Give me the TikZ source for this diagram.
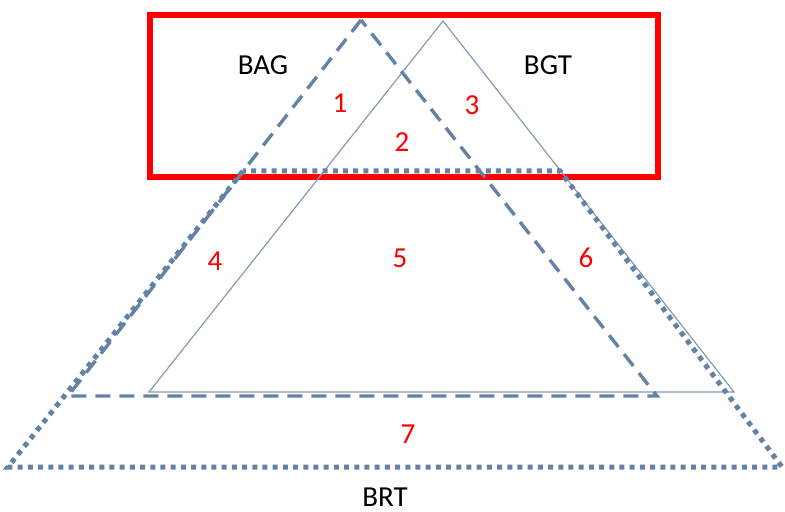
\documentclass[tikz,border=0pt]{standalone}
\usepackage{fontspec}
\setmainfont{Carlito}
\usetikzlibrary{positioning}
\definecolor{steel}{RGB}{100,130,165}
\tikzset{
  scopebox/.style={draw=red, line width=2.6pt},
  bagline/.style={draw=steel, line width=1.7pt, dash pattern=on 7.5pt off 4.5pt},
  bgtline/.style={draw=steel!80, line width=0.6pt},
  brtline/.style={draw=steel, line width=2.5pt, dash pattern=on 2.5pt off 2.6pt},
  lbl/.style={font=\fontsize{14.5}{16}\selectfont, text=black},
  num/.style={lbl, text=red},
}
\begin{document}
\begin{tikzpicture}[x=0.5pt, y=-0.5pt]
  \useasboundingbox (0,0) rectangle (785,512);

  % corners
  \coordinate (bagtop) at (361,20);
  \coordinate (bagleft) at (68,396);
  \coordinate (bagright) at (657,396);
  \coordinate (bgttop) at (443,21);
  \coordinate (bgtleft) at (149,392);
  \coordinate (bgtright) at (734,392);
  \coordinate (brttl) at (243,171);
  \coordinate (brttr) at (560,171);
  \coordinate (brtbl) at (8,467);
  \coordinate (brtbr) at (782,467);

  \draw[scopebox] (150,15) rectangle (658,177);

  \draw[bgtline] (bgttop) -- (bgtleft) -- (bgtright) -- cycle;
  \draw[bagline] (bagtop) -- (bagleft) -- (bagright) -- cycle;
  \draw[brtline] (brttl) -- (brtbl) -- (brtbr) -- (brttr) -- cycle;

  \node[lbl] (bag) at (263,65) {BAG};
  \node[lbl] (bgt) at (548,65) {BGT};
  \node[lbl] (brt) at (385,497) {BRT};

  \node[num] (r1) at (340,103) {1};
  \node[num] (r2) at (402,142) {2};
  \node[num] (r3) at (472,105) {3};
  \node[num] (r4) at (215,261) {4};
  \node[num] (r5) at (400,258) {5};
  \node[num] (r6) at (586,258) {6};
  \node[num] (r7) at (408,434) {7};
\end{tikzpicture}
\end{document}
